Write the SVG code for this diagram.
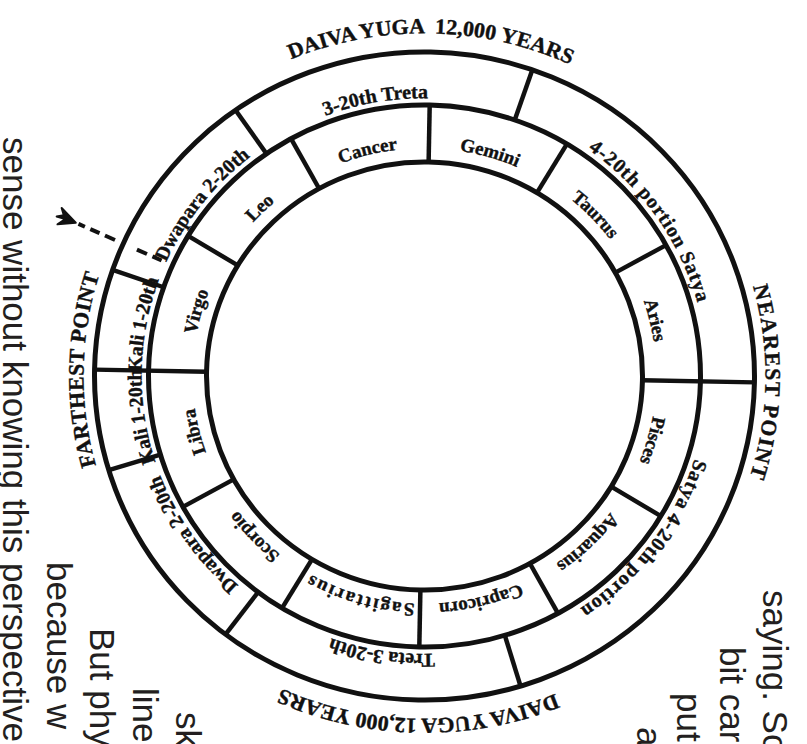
<svg xmlns="http://www.w3.org/2000/svg" width="807" height="744" viewBox="0 0 807 744">
<style>
.ring{fill:none;stroke:#111;stroke-width:5}
.div{stroke:#111;stroke-width:4.5}
.lab{font-family:"Liberation Serif","Times New Roman",serif;font-weight:bold;fill:#111;stroke:#111;stroke-width:0.4}
.z{font-size:19px}
.y{font-size:20px}
.o{font-size:22px}
.page{font-family:"Liberation Sans",Arial,sans-serif;font-size:35px;fill:#231f20}
.dash{stroke:#111;stroke-width:4}
</style>
<defs>
<path id="r349" d="M-349,0A349,349 0 1 1 349,0A349,349 0 1 1 -349,0"/>
<path id="r341" d="M-341,0A341,341 0 1 1 341,0A341,341 0 1 1 -341,0"/>
<path id="r283" d="M-283,0A283,283 0 1 1 283,0A283,283 0 1 1 -283,0"/>
<path id="r232" d="M-232,0A232,232 0 1 1 232,0A232,232 0 1 1 -232,0"/>
</defs>
<rect width="807" height="744" fill="#fff"/>
<g id="page-text">
<text class="page" transform="translate(3,137) rotate(90)">sense without knowing this perspective</text>
<text class="page" transform="translate(47,562) rotate(90)">because w</text>
<text class="page" transform="translate(90,628) rotate(90)">But phy</text>
<text class="page" transform="translate(133,688) rotate(90)">line</text>
<text class="page" transform="translate(176,712) rotate(90)">sk</text>
<text class="page" transform="translate(763,590) rotate(90)">saying. So</text>
<text class="page" transform="translate(720,647) rotate(90)">bit car</text>
<text class="page" transform="translate(677,693) rotate(90)">put</text>
<text class="page" transform="translate(637,727) rotate(90)">a</text>
</g>
<g id="wheel" transform="translate(424.5,376) rotate(1.1) scale(1,0.982)">
<g id="rings">
<circle class="ring" r="330"/>
<circle class="ring" r="276"/>
<circle class="ring" r="218"/>
</g>
<g id="connectors">
<line class="div" x1="218" x2="330" transform="rotate(0)"/>
<line class="div" x1="218" x2="276" transform="rotate(30)"/>
<line class="div" x1="218" x2="276" transform="rotate(60)"/>
<line class="div" x1="218" x2="276" transform="rotate(90)"/>
<line class="div" x1="218" x2="276" transform="rotate(120)"/>
<line class="div" x1="218" x2="276" transform="rotate(150)"/>
<line class="div" x1="218" x2="330" transform="rotate(180)"/>
<line class="div" x1="218" x2="276" transform="rotate(210)"/>
<line class="div" x1="218" x2="276" transform="rotate(240)"/>
<line class="div" x1="218" x2="276" transform="rotate(270)"/>
<line class="div" x1="218" x2="276" transform="rotate(300)"/>
<line class="div" x1="218" x2="276" transform="rotate(330)"/>
<line class="div" x1="276" x2="330" transform="rotate(72)"/>
<line class="div" x1="276" x2="330" transform="rotate(-72)"/>
<line class="div" x1="276" x2="330" transform="rotate(126)"/>
<line class="div" x1="276" x2="330" transform="rotate(-126)"/>
<line class="div" x1="276" x2="330" transform="rotate(162)"/>
<line class="div" x1="276" x2="330" transform="rotate(-162)"/>
<g id="arrow" transform="rotate(-157)">
<line class="dash" x1="288" x2="298" stroke-width="2.5"/>
<line class="dash" x1="304" x2="315" stroke-width="2.5"/>
<line class="dash" x1="339" x2="350"/>
<line class="dash" x1="356" x2="366"/>
<line class="dash" x1="372" x2="379"/>
<path d="M382,0 L398,-9 L393,-1 L402,-2 L396,2 L401,8 Z" fill="#111" stroke="#111" stroke-width="2" stroke-linejoin="round"/>
</g>
</g>
<g id="zodiac">
<g id="gemini" transform="rotate(15)"><text class="lab z"><textPath href="#r232" startOffset="25%" text-anchor="middle">Gemini</textPath></text></g>
<g id="taurus" transform="rotate(45)"><text class="lab z" font-size="17"><textPath href="#r232" startOffset="25%" text-anchor="middle">Taurus</textPath></text></g>
<g id="aries" transform="rotate(75)"><text class="lab z"><textPath href="#r232" startOffset="25%" text-anchor="middle">Aries</textPath></text></g>
<g id="pisces" transform="rotate(105)"><text class="lab z"><textPath href="#r232" startOffset="25%" text-anchor="middle">Pisces</textPath></text></g>
<g id="aquarius" transform="rotate(135)"><text class="lab z" font-size="17"><textPath href="#r232" startOffset="25%" text-anchor="middle">Aquarius</textPath></text></g>
<g id="capricorn" transform="rotate(165)"><text class="lab z" font-size="17"><textPath href="#r232" startOffset="25%" text-anchor="middle">Capricorn</textPath></text></g>
<g id="sagittarius" transform="rotate(195)"><text class="lab z" font-size="17" letter-spacing="2"><textPath href="#r232" startOffset="25%" text-anchor="middle">Sagittarius</textPath></text></g>
<g id="scorpio" transform="rotate(225)"><text class="lab z"><textPath href="#r232" startOffset="25%" text-anchor="middle">Scorpio</textPath></text></g>
<g id="libra" transform="rotate(255)"><text class="lab z"><textPath href="#r232" startOffset="25%" text-anchor="middle">Libra</textPath></text></g>
<g id="virgo" transform="rotate(285)"><text class="lab z"><textPath href="#r232" startOffset="25%" text-anchor="middle">Virgo</textPath></text></g>
<g id="leo" transform="rotate(315)"><text class="lab z"><textPath href="#r232" startOffset="25%" text-anchor="middle">Leo</textPath></text></g>
<g id="cancer" transform="rotate(345)"><text class="lab z"><textPath href="#r232" startOffset="25%" text-anchor="middle">Cancer</textPath></text></g>
</g>
<g id="yugas">
<g id="treta-top" transform="rotate(-11)"><text class="lab y" font-size="21"><textPath href="#r283" startOffset="25%" text-anchor="middle">3-20th Treta</textPath></text></g>
<g id="satya-top" transform="rotate(54)"><text class="lab y" letter-spacing="1"><textPath href="#r283" startOffset="25%" text-anchor="middle">4-20th portion Satya</textPath></text></g>
<g id="satya-bottom" transform="rotate(126)"><text class="lab y" letter-spacing="1"><textPath href="#r283" startOffset="25%" text-anchor="middle">Satya 4-20th portion</textPath></text></g>
<g id="treta-bottom" transform="rotate(187.5)"><text class="lab y" font-size="21"><textPath href="#r283" startOffset="25%" text-anchor="middle">Treta 3-20th</textPath></text></g>
<g id="dwapara-bottom" transform="rotate(234)"><text class="lab y" font-size="18"><textPath href="#r283" startOffset="25%" text-anchor="middle">Dwapara 2-20th</textPath></text></g>
<g id="kali-bottom" transform="rotate(260.5)"><text class="lab y" font-size="15.5"><textPath href="#r283" startOffset="25%" text-anchor="middle">Kali 1-20th</textPath></text></g>
<g id="kali-top" transform="rotate(-80.5)"><text class="lab y" font-size="15.5"><textPath href="#r283" startOffset="25%" text-anchor="middle">Kali 1-20th</textPath></text></g>
<g id="dwapara-top" transform="rotate(-53)"><text class="lab y" font-size="16.5"><textPath href="#r283" startOffset="25%" text-anchor="middle">Dwapara 2-20th</textPath></text></g>
</g>
<g id="outer">
<g id="daiva-top" transform="rotate(0)"><text class="lab o" style="white-space:pre"><textPath href="#r349" startOffset="25%" text-anchor="middle">DAIVA YUGA  12,000 YEARS</textPath></text></g>
<g id="daiva-bottom" transform="rotate(180)"><text class="lab o"><textPath href="#r349" startOffset="25%" text-anchor="middle">DAIVA YUGA 12,000 YEARS</textPath></text></g>
<g id="nearest" transform="rotate(90)"><text class="lab o" letter-spacing="1.5"><textPath href="#r341" startOffset="25%" text-anchor="middle">NEAREST POINT</textPath></text></g>
<g id="farthest" transform="rotate(270)"><text class="lab o" font-size="21" letter-spacing="0.5"><textPath href="#r341" startOffset="25%" text-anchor="middle">FARTHEST POINT</textPath></text></g>
</g>
</g>
</svg>
